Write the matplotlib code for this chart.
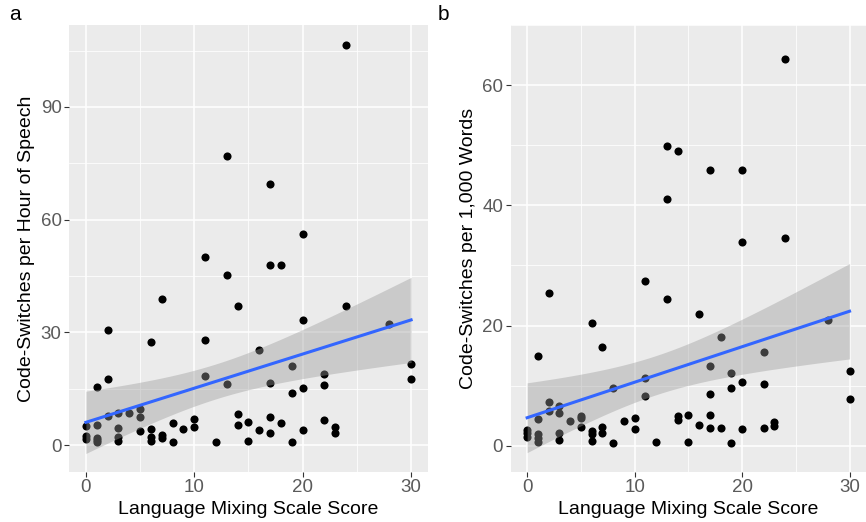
import numpy as np
import matplotlib
matplotlib.use("Agg")
import matplotlib.pyplot as plt

plt.rcParams['font.family'] = ['Liberation Sans', 'DejaVu Sans']

# language mixing scale score per speaker, with both code-switch rates
lms = [0, 0, 0,
       1, 1, 1, 1, 1,
       2, 2, 2,
       3, 3, 3, 3,
       4,
       5, 5, 5,
       6, 6, 6, 6,
       7, 7, 7,
       8, 8,
       9,
       10, 10,
       11, 11, 11,
       12,
       13, 13, 13,
       14, 14, 14,
       15, 15,
       16, 16,
       17, 17, 17, 17, 17,
       18, 18,
       19, 19, 19,
       20, 20, 20, 20,
       22, 22, 22,
       23, 23,
       24, 24,
       28,
       30, 30]

per_hour = [5.1, 2.5, 1.6,
            15.5, 5.4, 1.9, 1.3, 0.9,
            30.6, 17.6, 7.7,
            8.6, 4.6, 2.1, 1.1,
            8.6,
            9.5, 7.5, 3.8,
            27.4, 4.3, 2.2, 1.1,
            39.0, 2.8, 1.8,
            5.8, 0.9,
            4.3,
            6.8, 4.9,
            50.0, 28.0, 18.3,
            0.9,
            76.9, 45.3, 16.3,
            37.0, 8.3, 5.4,
            6.1, 1.2,
            25.3, 4.0,
            69.5, 48.0, 16.5, 7.5, 3.3,
            48.0, 5.9,
            21.0, 13.8, 0.7,
            56.3, 33.3, 15.1, 4.0,
            18.9, 16.1, 6.7,
            4.9, 3.1,
            106.4, 37.0,
            32.1,
            21.5, 17.6]

per_1000 = [2.7, 2.2, 1.5,
            14.9, 4.5, 2.0, 1.3, 0.6,
            25.4, 7.3, 5.8,
            6.7, 5.5, 2.2, 0.9,
            4.1,
            4.9, 4.6, 3.1,
            20.4, 2.5, 1.9, 0.8,
            16.5, 3.1, 2.2,
            9.7, 0.5,
            4.1,
            4.6, 2.8,
            27.4, 11.3, 8.3,
            0.7,
            49.8, 41.1, 24.4,
            49.1, 5.0, 4.3,
            5.2, 0.6,
            21.9, 3.4,
            45.9, 13.3, 8.6, 5.2, 3.0,
            18.1, 3.0,
            12.2, 9.7, 0.4,
            45.9, 33.9, 10.6, 2.8,
            15.6, 10.3, 3.0,
            3.9, 3.3,
            64.3, 34.5,
            20.9,
            12.5, 7.8]

x_ticks = [0, 10, 20, 30]
panels = [
    ("a", per_hour, "Code-Switches per Hour of Speech", [0, 30, 60, 90], (-7.1, 111.8)),
    ("b", per_1000, "Code-Switches per 1,000 Words", [0, 20, 40, 60], (-4.3, 67.6)),
]

W, H = 866, 522
fig = plt.figure(figsize=(W / 100, H / 100), dpi=100)
boxes = [(69.3, 427.7), (510.7, 866.0)]
top, bottom = 25.0, 471.7


def lm_band(x, y, xs, t=1.997):
    x = np.asarray(x, float)
    y = np.asarray(y, float)
    b, a = np.polyfit(x, y, 1)
    resid = y - (a + b * x)
    n = len(x)
    s = np.sqrt((resid ** 2).sum() / (n - 2))
    sxx = ((x - x.mean()) ** 2).sum()
    fit = a + b * xs
    se = s * np.sqrt(1 / n + (xs - x.mean()) ** 2 / sxx)
    return fit, fit - t * se, fit + t * se


for (label, yvals, ytitle, yticks, ylim), (l, r) in zip(panels, boxes):
    ax = fig.add_axes([l / W, 1 - bottom / H, (r - l) / W, (bottom - top) / H])
    ax.set_facecolor("#EBEBEB")
    for sp in ax.spines.values():
        sp.set_visible(False)

    ax.scatter(lms, yvals, s=34, color="black", linewidths=0, zorder=3)
    xs = np.linspace(min(lms), max(lms), 80)
    fit, lo, hi = lm_band(lms, yvals, xs)
    ax.fill_between(xs, lo, hi, color="#999999", alpha=0.4, linewidth=0, zorder=4)
    ax.plot(xs, fit, color="#3366FF", lw=2.2, zorder=5)

    ax.set_xlim(-1.53, 31.53)
    ax.set_ylim(*ylim)
    ax.set_xticks(x_ticks)
    ax.set_yticks(yticks)
    step = yticks[1] - yticks[0]
    ax.set_xticks([5, 15, 25], minor=True)
    ax.set_yticks([v + step / 2 for v in yticks], minor=True)
    ax.grid(which="major", color="white", lw=1.1, zorder=0)
    ax.grid(which="minor", color="white", lw=0.55, zorder=0)
    ax.set_axisbelow(True)
    ax.tick_params(which="major", length=3.5, width=0.8, color="#333333",
                   labelsize=13.5, labelcolor="#5A5A5A", pad=2)
    ax.tick_params(which="minor", length=0)
    ax.set_xlabel("Language Mixing Scale Score", fontsize=14, labelpad=3)
    ax.set_ylabel(ytitle, fontsize=14, labelpad=4)

    fig.text((l - 60) / W if label == "a" else (l - 73) / W, 1 - 20 / H, label,
             fontsize=15, ha="left", va="baseline")

fig.savefig("out.png", dpi=100)
